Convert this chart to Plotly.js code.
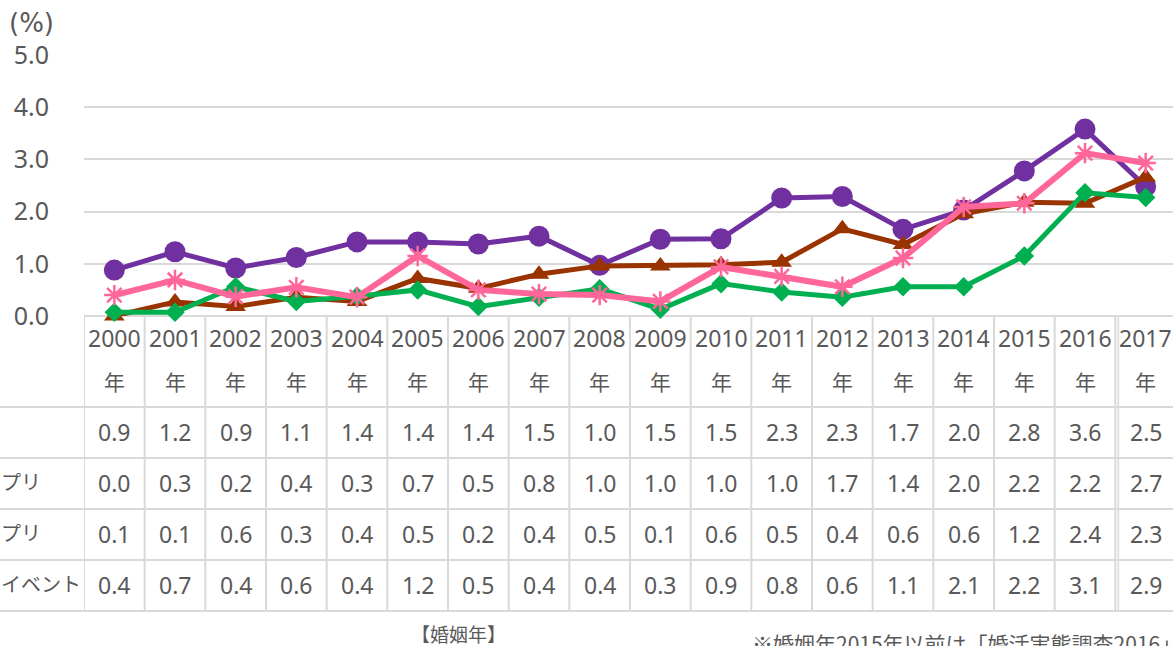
<!DOCTYPE html>
<html>
<head>
<meta charset="utf-8">
<script src="https://cdn.plot.ly/plotly-3.0.1.min.js"></script>
<style>
html,body{margin:0;padding:0;overflow:hidden;background:#fff;}
#chart{width:1176px;height:646px;}
</style>
</head>
<body>
<div id="chart"></div>
<script>
// ---- data ----
const years = ['2000','2001','2002','2003','2004','2005','2006','2007','2008','2009','2010','2011','2012','2013','2014','2015','2016','2017'];
const yearSuffix = '年';
const rowLabels = ['', 'プリ', 'プリ', 'イベント'];

// plotted values
const seriesPurple = [0.88,1.23,0.92,1.12,1.42,1.42,1.38,1.53,0.97,1.47,1.48,2.26,2.29,1.66,2.03,2.78,3.58,2.48];
const seriesBrown  = [0.00,0.27,0.18,0.36,0.28,0.72,0.53,0.80,0.96,0.96,0.98,1.03,1.67,1.37,1.96,2.18,2.16,2.66];
const seriesGreen  = [0.07,0.07,0.56,0.28,0.38,0.50,0.18,0.36,0.52,0.13,0.62,0.46,0.36,0.56,0.56,1.15,2.36,2.27];
const seriesPink   = [0.40,0.69,0.37,0.55,0.36,1.15,0.50,0.42,0.40,0.28,0.94,0.76,0.56,1.11,2.09,2.16,3.12,2.93];

// table values (as printed)
const tablePurple = [0.9,1.2,0.9,1.1,1.4,1.4,1.4,1.5,1.0,1.5,1.5,2.3,2.3,1.7,2.0,2.8,3.6,2.5];
const tableBrown  = [0.0,0.3,0.2,0.4,0.3,0.7,0.5,0.8,1.0,1.0,1.0,1.0,1.7,1.4,2.0,2.2,2.2,2.7];
const tableGreen  = [0.1,0.1,0.6,0.3,0.4,0.5,0.2,0.4,0.5,0.1,0.6,0.5,0.4,0.6,0.6,1.2,2.4,2.3];
const tablePink   = [0.4,0.7,0.4,0.6,0.4,1.2,0.5,0.4,0.4,0.3,0.9,0.8,0.6,1.1,2.1,2.2,3.1,2.9];

const yTickVals = [0,1,2,3,4,5];
const yTickText = ['0.0','1.0','2.0','3.0','4.0','5.0'];
const unitLabel = '(%)';
const xAxisCaption = '【婚姻年】';
const noteText = '※婚姻年2015年以前は「婚活実態調査2016」';

// ---- layout geometry ----
const W = 1176, H = 646;
const mL = 84, mR = 0, mT = 55, mB = 330;
const plotW = W - mL - mR, plotH = H - mT - mB;
const axisY = H - mB; // pixel y of value 0
function py(pix){ return (axisY - pix) / plotH; }   // pixel y -> paper y
function px(pix){ return (pix - mL) / plotW; }      // pixel x -> paper x

const gray = '#d9d9d9';
const textGray = '#595959';
const numFont = {family:'Noto Sans, Noto Sans CJK JP, sans-serif', size:23, color:textGray};
const cjkFont = {family:'Noto Sans CJK JP, Noto Sans, sans-serif', size:21, color:textGray};

const xIdx = years.map((_, i) => i);

const traces = [
  {x:xIdx, y:seriesPurple, color:'#7030A0', symbol:'circle', size:21, lw:5},
  {x:xIdx, y:seriesBrown,  color:'#993300', symbol:'triangle-up', size:18, lw:5},
  {x:xIdx, y:seriesGreen,  color:'#00B050', symbol:'diamond', size:15, lw:5},
  {x:xIdx, y:seriesPink,   color:'#FF6699', symbol:'asterisk-open', size:17, lw:6}
].map(t => ({
  type:'scatter', mode:'lines+markers', x:t.x, y:t.y, cliponaxis:false,
  line:{color:t.color, width:t.lw},
  marker:{symbol:t.symbol, size:t.size, color:t.color,
          line:{color:t.color, width: t.symbol === 'asterisk-open' ? 2.5 : 0}},
  hoverinfo:'skip', showlegend:false
}));

// ---- table ----
const shapes = [];
const tableTop = axisY;
const rowLines = [407, 458, 509, 560, 611];
const tableBottom = 611;
for (let i = 0; i <= years.length; i++) {
  shapes.push({type:'line', xref:'x', yref:'paper', x0:i-0.5, x1:i-0.5,
               y0:py(tableTop), y1:py(tableBottom), line:{color:gray, width:2}, layer:'below'});
}
// double line between 2016 and 2017
shapes.push({type:'line', xref:'x', yref:'paper', x0:16.5+3/(plotW/years.length), x1:16.5+3/(plotW/years.length),
             y0:py(tableTop), y1:py(tableBottom), line:{color:gray, width:1.5}, layer:'below'});
rowLines.forEach(r => {
  shapes.push({type:'line', xref:'paper', yref:'paper', x0:px(0), x1:px(W),
               y0:py(r), y1:py(r), line:{color:gray, width:2}, layer:'below'});
});

const annotations = [];
years.forEach((yr, i) => {
  annotations.push({xref:'x', yref:'paper', x:i, y:py(338), text:yr, showarrow:false,
                    xanchor:'center', yanchor:'middle', font:numFont});
  annotations.push({xref:'x', yref:'paper', x:i, y:py(381), text:yearSuffix, showarrow:false,
                    xanchor:'center', yanchor:'middle', font:cjkFont});
});
const tableRows = [tablePurple, tableBrown, tableGreen, tablePink];
const rowCenters = [432, 483, 534, 585];
tableRows.forEach((row, r) => {
  row.forEach((v, i) => {
    annotations.push({xref:'x', yref:'paper', x:i, y:py(rowCenters[r]), text:v.toFixed(1),
                      showarrow:false, xanchor:'center', yanchor:'middle', font:numFont});
  });
  if (rowLabels[r]) {
    annotations.push({xref:'paper', yref:'paper', x:px(-1), y:py(rowCenters[r] - 2), text:rowLabels[r],
                      showarrow:false, xanchor:'left', yanchor:'middle',
                      font:{family:'Noto Sans CJK JP, sans-serif', size:20, color:textGray}});
  }
});
annotations.push({xref:'paper', yref:'paper', x:px(7), y:py(23), text:unitLabel, showarrow:false,
                  xanchor:'left', yanchor:'middle',
                  font:{family:'DejaVu Sans, sans-serif', size:26, color:textGray}});
annotations.push({xref:'paper', yref:'paper', x:px(409), y:py(633), text:xAxisCaption, showarrow:false,
                  xanchor:'left', yanchor:'middle',
                  font:{family:'Noto Sans CJK JP, sans-serif', size:19, color:textGray}});
annotations.push({xref:'paper', yref:'paper', x:px(750), y:py(643), text:noteText, showarrow:false,
                  xanchor:'left', yanchor:'middle',
                  font:{family:'Noto Sans CJK JP, sans-serif', size:21, color:textGray}});

const layout = {
  width:W, height:H,
  margin:{l:mL, r:mR, t:mT, b:mB, pad:0},
  paper_bgcolor:'#fff', plot_bgcolor:'#fff',
  xaxis:{range:[-0.5, years.length - 0.5], showticklabels:false, showgrid:false,
         zeroline:false, showline:false, ticks:'', fixedrange:true},
  yaxis:{range:[0,5], tickvals:yTickVals, ticktext:yTickText, showgrid:true,
         gridcolor:gray, gridwidth:2, zeroline:true, zerolinecolor:gray, zerolinewidth:2,
         showline:false, ticks:'', ticklabelstandoff:34,
         tickfont:{family:'Noto Sans, sans-serif', size:25, color:textGray}, fixedrange:true},
  shapes:shapes,
  annotations:annotations
};

Plotly.newPlot('chart', traces, layout, {staticPlot:true, displayModeBar:false});
</script>
</body>
</html>
